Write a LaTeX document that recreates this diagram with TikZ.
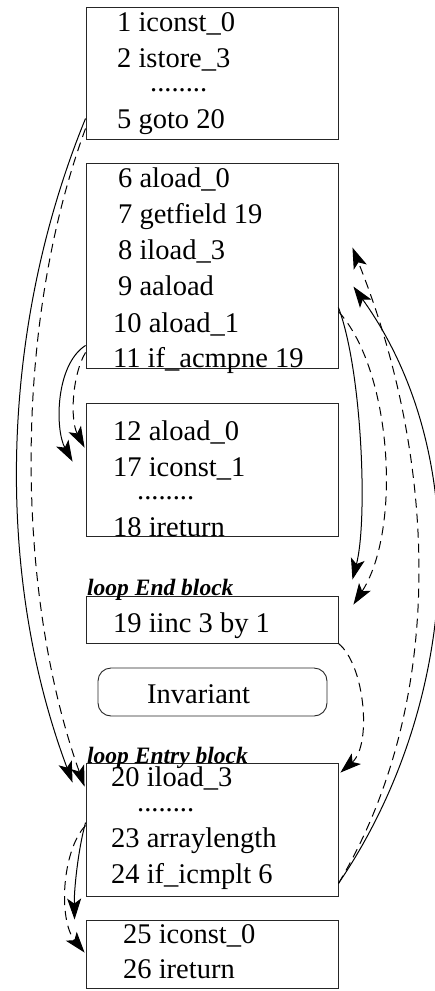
\documentclass[tikz,border=0pt]{standalone}
\usepackage{fontspec}
\setmainfont{Liberation Serif}
\usetikzlibrary{arrows.meta,calc}

\begin{document}
\begin{tikzpicture}[x=1pt,y=-1pt,
  block/.style={draw=black!85, line width=0.9pt, inner sep=0pt, minimum width=252pt},
  instr/.style={anchor=base west, inner sep=0pt, font=\fontsize{28.5}{34}\selectfont},
  blocktag/.style={anchor=base west, inner sep=0pt, font=\fontsize{23.5}{28}\selectfont\bfseries\itshape},
  arr/.style={line width=1pt, -{Stealth[length=21pt,width=14pt,inset=5pt]}},
  flow/.style={arr},
  dep/.style={arr, dash pattern=on 9pt off 6pt},
]
\useasboundingbox (0,0) rectangle (435,991);

% basic blocks
\node[block, minimum height=132pt] (b1) at (212,73) {};
\node[block, minimum height=205pt] (b2) at (212,265.5) {};
\node[block, minimum height=133pt] (b3) at (212,469.5) {};
\node[block, minimum height=47pt]  (b4) at (212,619.5) {};
\node[draw=black!85, line width=0.9pt, rounded corners=13pt, minimum width=229pt, minimum height=48pt, inner sep=0pt] (inv) at (212.5,692) {};
\node[block, minimum height=133pt] (b5) at (212,829.5) {};
\node[block, minimum height=68pt]  (b6) at (212,954) {};

% instructions
\node[instr] (i1)  at (117,31)  {1 iconst\_0};
\node[instr] (i2)  at (117,67)  {2 istore\_3};
\node[instr] (d1)  at (150,91)  {........};
\node[instr] (i5)  at (117,128) {5 goto 20};

\node[instr] (i6)  at (118,187) {6 aload\_0};
\node[instr] (i7)  at (118,223) {7 getfield 19};
\node[instr] (i8)  at (118,259) {8 iload\_3};
\node[instr] (i9)  at (118,295) {9 aaload};
\node[instr] (i10) at (113,332) {10 aload\_1};
\node[instr] (i11) at (113,367) {11 if\_acmpne 19};

\node[instr] (i12) at (113,440) {12 aload\_0};
\node[instr] (i17) at (113,476) {17 iconst\_1};
\node[instr] (d2)  at (137,499) {........};
\node[instr] (i18) at (113,536) {18 ireturn};

\node[blocktag] (tEnd) at (87,595) {loop End block};
\node[instr] (i19) at (113,632) {19 iinc 3 by 1};

\node[instr] (tInv) at (147,703) {Invariant};

\node[blocktag] (tEntry) at (87,763) {loop Entry block};
\node[instr] (i20) at (111,786) {20 iload\_3};
\node[instr] (d3)  at (137,811) {........};
\node[instr] (i23) at (111,847) {23 arraylength};
\node[instr] (i24) at (111,883) {24 if\_icmplt 6};

\node[instr] (i25) at (123,943) {25 iconst\_0};
\node[instr] (i26) at (123,978) {26 ireturn};

% goto 20: block 1 -> loop entry
\draw[flow] ($(b1.south west)+(0,-21)$) .. controls (1,325) and (-7,570) .. ($(b5.north west)+(-13,20)$);
\draw[dep]  ($(b1.south west)+(0,-11)$) .. controls (12,328) and (16,594) .. ($(b5.north west)+(-1,24)$);

% if_acmpne fall-through: block 2 -> block 3
\draw[flow] ($(b2.south west)+(0,-23)$) .. controls (55,365) and (55,430) .. ($(b3.north west)+(-13,59)$);
\draw[dep]  ($(b2.south west)+(0,-16)$) .. controls (72,375) and (70,420) .. ($(b3.north west)+(-1,45)$);

% if_acmpne taken: block 2 -> loop end
\draw[flow] ($(b2.north east)+(0,145)$) .. controls (362,370) and (368,520) .. ($(b4.north east)+(14,-16)$);
\draw[dep]  ($(b2.north east)+(0,149)$) .. controls (392,370) and (402,530) .. ($(b4.north east)+(15,9)$);

% loop end -> loop entry
\draw[dep] (b4.south east) .. controls (365,665) and (372,745) .. ($(b5.north east)+(2,10)$);

% back edge: loop entry -> block 2
\draw[flow] ($(b5.south east)+(0,-13)$) .. controls (456,711) and (479,462) .. ($(b2.north east)+(15,124)$);
\draw[dep]  ($(b5.south east)+(0,-13)$) .. controls (451,695) and (434,451) .. ($(b2.north east)+(14,85)$);

% loop exit: loop entry -> block 6
\draw[flow] ($(b5.north west)+(0,60)$) .. controls (78,850) and (74,890) .. ($(b6.north west)+(-11,0)$);
\draw[dep]  ($(b5.north west)+(0,63)$) .. controls (62,850) and (58,920) .. ($(b6.north west)+(-1,33)$);
\end{tikzpicture}
\end{document}
